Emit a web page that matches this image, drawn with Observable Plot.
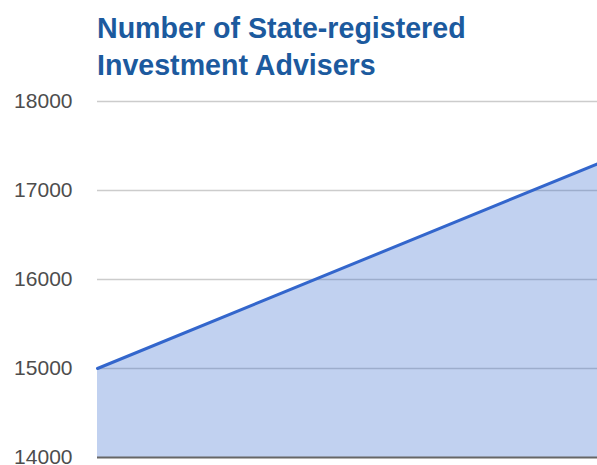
<!DOCTYPE html>
<html>
<head>
<meta charset="utf-8">
<script src="https://cdn.jsdelivr.net/npm/d3@7"></script>
<script src="https://cdn.jsdelivr.net/npm/@observablehq/plot@0.6"></script>
<style>
  html, body { margin: 0; padding: 0; background: #fff; }
  #title { box-sizing: border-box; height: 88px; padding: 10px 0 0 97px; font: bold 28.6px "Liberation Sans", Arial, sans-serif; line-height: 37px; color: #1c5a9e; white-space: nowrap; }
  svg { display: block; }
</style>
</head>
<body>
<div id="title">Number of State-registered<br>Investment Advisers</div>
<div id="chart"></div>
<script>
const periods = ["Start", "End"];
const advisers = [15000, 17300];
const yTicks = [14000, 15000, 16000, 17000, 18000];

const data = periods.map((p, i) => ({ idx: i, period: p, value: advisers[i] }));

const chart = Plot.plot({
  width: 597,
  height: 377,
  marginTop: 13,
  marginBottom: 8,
  marginLeft: 97,
  marginRight: 0,
  style: { fontFamily: "'Liberation Sans', Arial, sans-serif", fontSize: "21px", color: "#4d4d4d", background: "#fff" },
  x: { domain: [0, periods.length - 1], axis: null },
  y: { domain: [14000, 18000], ticks: yTicks, tickSize: 0, tickPadding: 25, tickFormat: d => String(d), label: null },
  marks: [
    Plot.gridY(yTicks.filter(t => t !== 14000), { stroke: "#cccccc", strokeOpacity: 1, strokeWidth: 1.3 }),
    Plot.areaY(data, { x: "idx", y1: 14000, y2: "value", fill: "#3366cc", fillOpacity: 0.3 }),
    Plot.lineY(data, { x: "idx", y: "value", stroke: "#3366cc", strokeWidth: 3 }),
    Plot.ruleY([14000], { stroke: "#666666", strokeWidth: 2 }),
    Plot.axisY({ ticks: yTicks, tickSize: 0, tickPadding: 25, tickFormat: d => String(d), fill: "#4d4d4d", fontSize: 21, label: null })
  ]
});
document.getElementById("chart").appendChild(chart);
</script>
</body>
</html>
